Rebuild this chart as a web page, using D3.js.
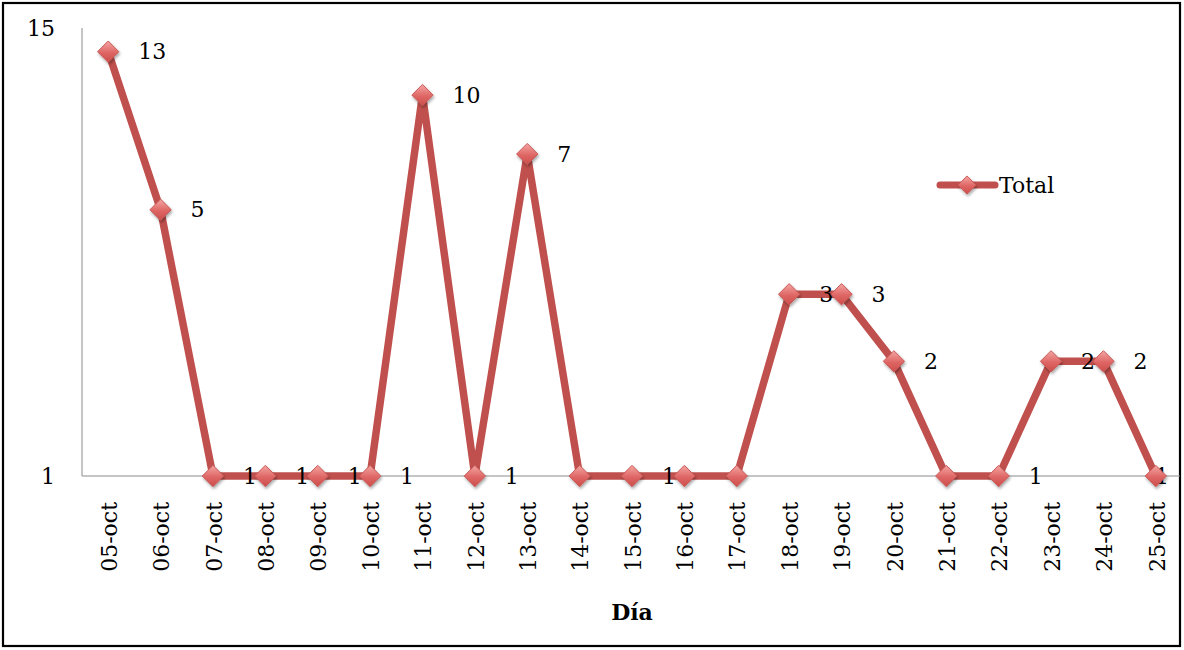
<!DOCTYPE html>
<html>
<head>
<meta charset="utf-8">
<script src="https://cdn.jsdelivr.net/npm/d3@7"></script>
<style>
  html, body { margin: 0; padding: 0; background: #fff; }
  svg { display: block; }
  text { font-family: "DejaVu Serif", "Liberation Serif", serif; fill: #000; }
</style>
</head>
<body>
<svg id="chart" width="1184" height="650"></svg>
<script>
// Daily totals, 5–25 October
const days = ["05-oct","06-oct","07-oct","08-oct","09-oct","10-oct","11-oct","12-oct","13-oct","14-oct",
              "15-oct","16-oct","17-oct","18-oct","19-oct","20-oct","21-oct","22-oct","23-oct","24-oct","25-oct"];
const totals = [13, 5, 1, 1, 1, 1, 10, 1, 7, 1, 1, 1, 1, 3, 3, 2, 1, 1, 2, 2, 1];
// whether each point carries a value label
const labelShown = [true, true, true, true, true, true, true, true, true, false,
                    true, false, false, true, true, true, false, true, true, true, true];
const yTicks = [1, 15];
const seriesName = "Total";
const xTitle = "Día";

const svg = d3.select("#chart");
const plot = { left: 82, right: 1182, top: 28, bottom: 476 };
const red = "#C0504D";

// outer frame
svg.append("rect").attr("x", 3).attr("y", 3).attr("width", 1177).attr("height", 643)
  .attr("fill", "#fff").attr("stroke", "#000").attr("stroke-width", 2.2);

const defs = svg.append("defs");
const grad = defs.append("linearGradient").attr("id", "mk").attr("x1", 0).attr("y1", 0).attr("x2", 0).attr("y2", 1);
grad.append("stop").attr("offset", "0%").attr("stop-color", "#F4A6A4");
grad.append("stop").attr("offset", "55%").attr("stop-color", "#DE6664");
grad.append("stop").attr("offset", "100%").attr("stop-color", "#CC4E4B");
const sh = defs.append("filter").attr("id", "sh").attr("x", "-50%").attr("y", "-50%").attr("width", "200%").attr("height", "200%");
sh.append("feDropShadow").attr("dx", 1).attr("dy", 2).attr("stdDeviation", 1.6)
  .attr("flood-color", "#000").attr("flood-opacity", 0.35);

const x = d3.scaleBand().domain(days).range([plot.left, plot.right]);
const y = d3.scaleLog().domain([1, 15]).range([plot.bottom, plot.top]);
const cx = d => x(d) + x.bandwidth() / 2;

// axes
svg.append("line").attr("x1", plot.left).attr("x2", plot.left)
  .attr("y1", plot.top).attr("y2", plot.bottom).attr("stroke", "#8c8c8c").attr("stroke-width", 1);
svg.append("line").attr("x1", plot.left).attr("x2", 1180)
  .attr("y1", plot.bottom).attr("y2", plot.bottom).attr("stroke", "#8c8c8c").attr("stroke-width", 1);

// y tick labels
svg.append("g").selectAll("text").data(yTicks).join("text")
  .attr("x", 55).attr("y", d => y(d)).attr("dy", "0.35em")
  .attr("text-anchor", "end").attr("font-size", 22).text(d => d);

// x tick labels (rotated)
svg.append("g").selectAll("text").data(days).join("text")
  .attr("transform", d => `translate(${cx(d) + 1},502) rotate(-90)`)
  .attr("dy", "0.35em").attr("text-anchor", "end").attr("font-size", 22).text(d => d);

// x title
svg.append("text").attr("x", 632).attr("y", 612).attr("dy", "0.35em")
  .attr("text-anchor", "middle").attr("font-size", 22).attr("font-weight", "bold").text(xTitle);

// series line
const pts = days.map((d, i) => ({ day: d, v: totals[i], show: labelShown[i] }));
const line = d3.line().x(p => cx(p.day)).y(p => y(p.v));
svg.append("path").datum(pts).attr("d", line).attr("fill", "none")
  .attr("stroke", red).attr("stroke-width", 7.5).attr("stroke-linejoin", "round");

const diamond = d3.symbol().type(d3.symbolDiamond2).size(290);

// data labels
const lbl = svg.append("g").selectAll("text").data(pts.filter(p => p.show)).join("text")
  .attr("y", p => y(p.v)).attr("dy", "0.35em").attr("font-size", 22).text(p => p.v)
  .attr("x", p => cx(p.day) + 30);
lbl.each(function(p) {
  const w = this.getComputedTextLength();
  const px = Math.min(cx(p.day) + 30, 1169 - w);
  d3.select(this).attr("x", px);
});

// markers
svg.append("g").selectAll("path").data(pts).join("path")
  .attr("transform", p => `translate(${cx(p.day)},${y(p.v)})`)
  .attr("d", diamond).attr("fill", "url(#mk)").attr("stroke", "#C85A58").attr("stroke-width", 1)
  .attr("filter", "url(#sh)");

// labels over the last marker stay readable
lbl.filter(p => p.day === days[days.length - 1]).raise();

// legend
const lg = svg.append("g").attr("transform", "translate(940,185)");
lg.append("line").attr("x1", 0).attr("x2", 55).attr("stroke", red).attr("stroke-width", 7).attr("stroke-linecap", "round");
lg.append("path").attr("transform", "translate(27,0)").attr("d", d3.symbol().type(d3.symbolDiamond2).size(210))
  .attr("fill", "url(#mk)").attr("stroke", "#C85A58").attr("filter", "url(#sh)");
lg.append("text").attr("x", 59).attr("dy", "0.35em").attr("font-size", 22).text(seriesName);
</script>
</body>
</html>
